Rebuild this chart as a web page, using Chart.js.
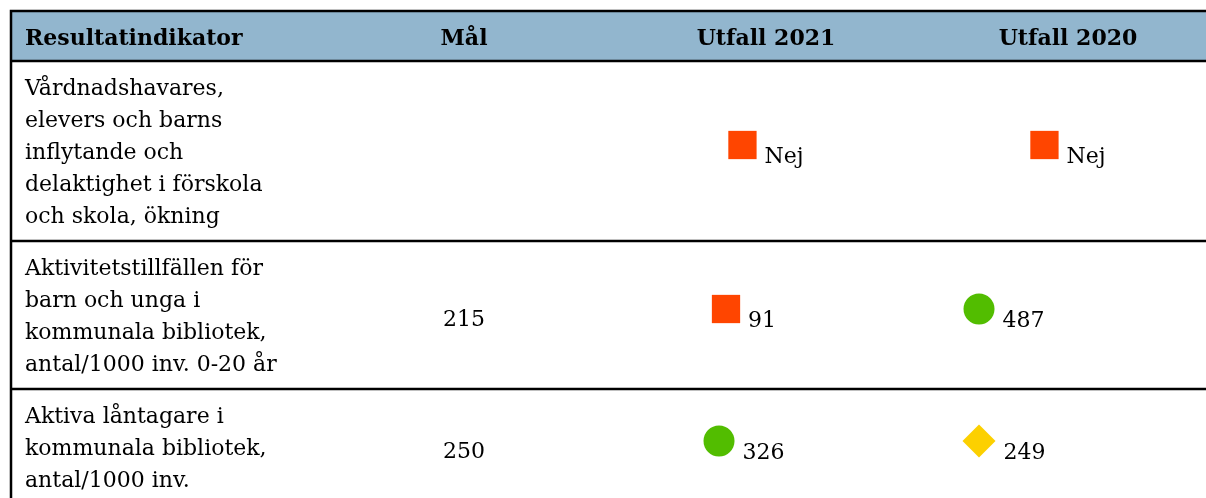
<!DOCTYPE html>
<html>
<head>
<meta charset="utf-8">
<script src="https://cdn.jsdelivr.net/npm/chart.js@4/dist/chart.umd.min.js"></script>
<style>
  html, body { margin: 0; background: #ffffff; }
  #wrap { width: 1206px; height: 498px; position: relative; }
</style>
</head>
<body>
<div id="wrap"><canvas id="tableChart"></canvas></div>
<script>
// table content
const headers = ['Resultatindikator', 'Mål', 'Utfall 2021', 'Utfall 2020'];
const indicators = [
    ['Vårdnadshavares,', 'elevers och barns', 'inflytande och', 'delaktighet i förskola', 'och skola, ökning'],
    ['Aktivitetstillfällen för', 'barn och unga i', 'kommunala bibliotek,', 'antal/1000 inv. 0-20 år'],
    ['Aktiva låntagare i', 'kommunala bibliotek,', 'antal/1000 inv.']
];
const targets = ['', '215', '250'];
const outcome2021 = ['Nej', '91', '326'];
const outcome2020 = ['Nej', '487', '249'];
const status2021 = ['red', 'red', 'green'];
const status2020 = ['red', 'green', 'yellow'];

// layout
const TOP = 11, LEFT = 11, COLW = 302;
const HEADER_H = 50, LINE_H = 32, ROW_PAD = 20;
const FONT = '"DejaVu Serif", "Liberation Serif", serif';
const FONT_SIZE = 22;
const HEAD_SIZE = 22;
const numberShift = { 2: -22, 3: -64 }; // number cells sit left of centre in the original
const GAP = 8;

const markers = {
    red:    { style: 'rect',    color: '#ff4500', radius: 20, width: 28 },
    green:  { style: 'circle',  color: '#52bd00', radius: 15.5, width: 31 },
    yellow: { style: 'rectRot', color: '#fcd000', radius: 16.5, width: 33 }
};

// row boundaries (offsets from table top)
const rowTops = [];
let acc = HEADER_H;
indicators.forEach(lines => {
    rowTops.push(acc);
    acc += lines.length * LINE_H + ROW_PAD;
});
const rowBottoms = rowTops.map((t, i) => t + indicators[i].length * LINE_H + ROW_PAD);
const rowCenters = rowTops.map((t, i) => (t + rowBottoms[i]) / 2);

// measure label widths so marker + label groups can be centred
const measureCtx = document.createElement('canvas').getContext('2d');
measureCtx.font = `${FONT_SIZE}px ${FONT}`;

function buildPoints(col, labels, statuses) {
    return labels.map((label, i) => {
        const m = markers[statuses[i]];
        const textW = measureCtx.measureText(label).width;
        const groupW = m.width + GAP + textW;
        const shift = isNaN(Number(label)) ? 0 : numberShift[col];
        const centerOffset = shift - groupW / 2 + m.width / 2;
        return { x: col + centerOffset / COLW, y: rowCenters[i] - 6, label: label, status: statuses[i] };
    });
}

const points2021 = buildPoints(2, outcome2021, status2021);
const points2020 = buildPoints(3, outcome2020, status2020);

function markerOpt(key) {
    return ctx => markers[ctx.raw ? ctx.raw.status : 'red'][key];
}

const tablePlugin = {
    id: 'tableGrid',
    beforeDraw(chart) {
        const c = chart.ctx;
        const ys = chart.scales.y;
        const W = chart.width;
        c.save();
        c.fillStyle = '#ffffff';
        c.fillRect(0, 0, W, chart.height);
        // header band
        c.fillStyle = '#92b6ce';
        c.fillRect(LEFT, ys.getPixelForValue(0), W - LEFT, HEADER_H);
        // borders
        c.strokeStyle = '#000000';
        c.lineWidth = 2.5;
        c.beginPath();
        [0, ...rowTops, rowBottoms[rowBottoms.length - 1]].forEach(v => {
            const y = ys.getPixelForValue(v);
            c.moveTo(LEFT - 1.25, y);
            c.lineTo(W, y);
        });
        c.moveTo(LEFT, ys.getPixelForValue(0));
        c.lineTo(LEFT, ys.getPixelForValue(rowBottoms[rowBottoms.length - 1]));
        c.stroke();
        c.restore();
    },
    afterDatasetsDraw(chart) {
        const c = chart.ctx;
        const xs = chart.scales.x, ys = chart.scales.y;
        c.save();
        c.fillStyle = '#000000';
        c.textBaseline = 'alphabetic';

        // header
        c.font = `bold ${HEAD_SIZE}px ${FONT}`;
        headers.forEach((h, col) => {
            const y = ys.getPixelForValue(0) + 34;
            if (col === 0) {
                c.textAlign = 'left';
                c.fillText(h, LEFT + 14, y);
            } else {
                c.textAlign = 'center';
                c.fillText(h, xs.getPixelForValue(col), y);
            }
        });

        // indicator texts
        c.font = `${FONT_SIZE}px ${FONT}`;
        c.textAlign = 'left';
        indicators.forEach((lines, i) => {
            lines.forEach((line, k) => {
                c.fillText(line, LEFT + 14, ys.getPixelForValue(rowTops[i]) + 34 + k * LINE_H);
            });
        });

        // targets
        c.textAlign = 'center';
        targets.forEach((t, i) => {
            if (t) c.fillText(t, xs.getPixelForValue(1), ys.getPixelForValue(rowCenters[i]) + 11);
        });

        // outcome labels next to markers
        c.textAlign = 'left';
        chart.data.datasets.forEach(ds => {
            ds.data.forEach(p => {
                const m = markers[p.status];
                const x = xs.getPixelForValue(p.x) + m.width / 2 + GAP;
                c.fillText(p.label, x, ys.getPixelForValue(p.y) + 18);
            });
        });
        c.restore();
    }
};

new Chart(document.getElementById('tableChart'), {
    type: 'scatter',
    data: {
        datasets: [
            { label: headers[2], data: points2021 },
            { label: headers[3], data: points2020 }
        ]
    },
    options: {
        responsive: true,
        maintainAspectRatio: false,
        animation: false,
        events: [],
        layout: { autoPadding: false, padding: { left: LEFT, top: TOP, right: 0, bottom: 0 } },
        elements: {
            point: {
                pointStyle: markerOpt('style'),
                radius: markerOpt('radius'),
                backgroundColor: markerOpt('color'),
                borderColor: markerOpt('color'),
                borderWidth: 0
            }
        },
        scales: {
            x: { type: 'linear', display: false, min: -0.5, max: -0.5 + (1206 - LEFT) / COLW },
            y: { type: 'linear', display: false, reverse: true, min: 0, max: 498 - TOP }
        },
        plugins: {
            legend: { display: false },
            tooltip: { enabled: false }
        }
    },
    plugins: [tablePlugin]
});
</script>
</body>
</html>
